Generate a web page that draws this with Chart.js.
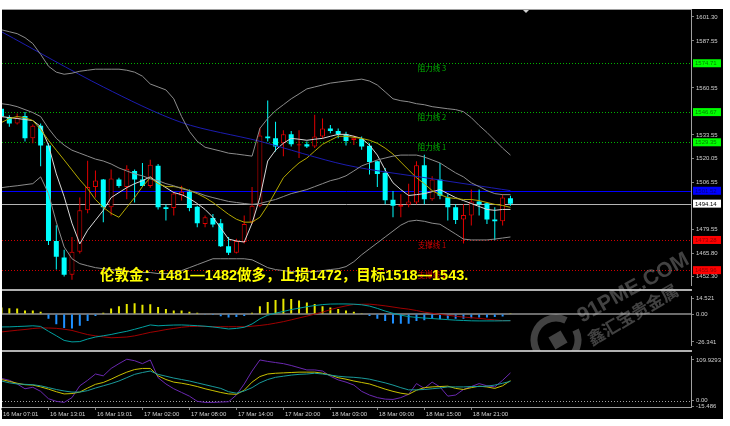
<!DOCTYPE html>
<html>
<head>
<meta charset="utf-8">
<script src="https://cdn.jsdelivr.net/npm/chart.js@4.4.1/dist/chart.umd.min.js"></script>
<style>
  body { margin: 0; background: #fff; }
  #wrap { position: relative; width: 730px; height: 426px; overflow: hidden; }
  canvas { position: absolute; left: 0; }
</style>
</head>
<body>
<div id="wrap">
  <canvas id="mainChart" width="730" height="291" style="top:0px"></canvas>
  <canvas id="macdChart" width="730" height="60" style="top:291px"></canvas>
  <canvas id="stochChart" width="730" height="75" style="top:351px"></canvas>
</div>
<script>
// hourly candles from 16 Mar 07:00
const opens = [1548.6,1543.9,1540.1,1544.5,1531.6,1538.8,1527.5,1472.7,1463.2,1453.3,
  1466.5,1490.4,1503.7,1508.0,1492.0,1508.0,1503.7,1512.8,1508.0,1504.3,
  1515.9,1492.0,1491.6,1498.8,1501.0,1492.4,1482.5,1485.9,1482.9,1469.7,
  1465.9,1472.1,1483.5,1492.9,1532.6,1531.6,1528.8,1533.9,1527.5,1528.2,
  1526.9,1532.6,1537.3,1535.8,1533.9,1530.7,1531.2,1527.3,1518.4,1511.8,
  1496.3,1492.4,1493.5,1494.8,1516.2,1496.7,1508.0,1497.6,1492.0,1485.0,
  1487.3,1495.4,1494.4,1485.0,1484.0,1497.2];
const highs = [1549.8,1544.8,1545.8,1546.8,1539.6,1540.1,1528.8,1481.8,1467.6,1475.0,
  1497.6,1518.8,1513.1,1508.3,1513.7,1509.0,1516.2,1513.7,1517.5,1519.3,
  1516.9,1493.8,1501.0,1504.4,1502.2,1492.9,1487.3,1488.2,1485.3,1475.0,
  1474.0,1487.3,1503.7,1537.7,1553.3,1541.1,1536.3,1535.8,1536.3,1529.8,
  1545.2,1543.0,1539.2,1537.3,1535.4,1533.2,1532.7,1528.8,1518.8,1514.6,
  1501.4,1499.5,1505.6,1518.4,1522.2,1509.9,1517.5,1499.5,1493.8,1493.8,
  1502.3,1502.3,1494.8,1492.0,1499.5,1498.6];
const lows = [1541.8,1538.3,1539.6,1529.8,1528.8,1515.6,1470.4,1456.3,1452.3,1450.4,
  1465.5,1488.6,1497.6,1483.5,1487.3,1503.3,1496.7,1494.8,1504.0,1503.3,
  1490.8,1484.4,1487.3,1495.9,1489.7,1480.6,1480.6,1480.6,1469.3,1464.6,
  1465.5,1471.2,1482.5,1492.0,1529.8,1524.1,1521.3,1526.9,1520.3,1526.0,
  1526.0,1531.6,1534.5,1531.6,1527.5,1527.8,1525.0,1510.8,1503.7,1493.8,
  1486.3,1486.3,1492.0,1493.8,1493.8,1495.8,1496.7,1484.4,1482.5,1471.2,
  1481.6,1487.3,1482.5,1473.1,1481.6,1492.9];
const closes = [1544.1,1540.1,1543.4,1531.6,1538.8,1527.5,1472.7,1463.6,1453.3,1466.5,
  1490.4,1503.7,1507.4,1492.0,1508.6,1504.3,1514.2,1508.0,1504.3,1516.5,
  1492.0,1491.0,1499.9,1501.0,1491.6,1482.9,1486.3,1482.2,1469.7,1465.9,
  1472.7,1482.5,1492.9,1533.2,1531.6,1526.9,1533.9,1528.2,1528.2,1526.9,
  1532.6,1537.3,1535.8,1533.9,1530.1,1532.0,1526.9,1518.0,1511.2,1496.1,
  1492.9,1493.5,1495.4,1516.2,1496.7,1508.0,1498.6,1492.0,1484.8,1487.6,
  1495.4,1493.8,1485.0,1484.0,1497.6,1494.1];

// overlay lines
const maYellow = [1540.7,1543.0,1544.1,1543.5,1541.8,1536.7,1530.5,1524.8,1519.2,1513.5,
  1507.8,1502.7,1496.5,1492.0,1488.6,1486.3,1492.0,1497.6,1503.9,1509.0,
  1505.6,1503.9,1503.9,1503.3,1501.6,1499.9,1497.6,1494.8,1491.4,1488.0,
  1485.2,1483.5,1483.5,1486.3,1493.1,1501.0,1509.0,1513.5,1517.5,1520.3,
  1524.3,1528.2,1530.5,1532.8,1532.8,1532.2,1531.6,1530.5,1528.8,1526.0,
  1522.6,1518.0,1513.5,1509.0,1505.6,1501.6,1499.3,1497.6,1497.1,1496.5,
  1496.5,1495.9,1494.8,1493.7,1493.1,1492.0];
const maWhite = [1544.1,1543.5,1543.0,1542.4,1541.8,1538.4,1527.7,1511.2,1498.2,1482.9,
  1471.0,1478.9,1484.6,1490.3,1497.6,1500.5,1503.3,1505.6,1507.3,1509.5,
  1506.1,1503.3,1500.5,1499.3,1497.1,1494.2,1490.8,1486.3,1480.1,1473.8,
  1472.7,1472.1,1482.9,1497.6,1518.6,1524.8,1528.8,1531.6,1531.1,1530.5,
  1531.1,1531.6,1532.8,1533.9,1533.9,1532.8,1531.6,1527.7,1522.0,1513.5,
  1506.1,1502.2,1498.8,1499.3,1499.9,1501.0,1502.2,1499.9,1497.6,1495.9,
  1494.2,1492.5,1490.8,1490.3,1490.8,1490.8];
const bandMid = [1551.5,1550.9,1549.8,1548.1,1546.4,1544.1,1537.3,1531.6,1527.7,1524.8,
  1523.1,1521.4,1519.7,1518.6,1516.9,1514.6,1512.9,1511.2,1510.1,1508.4,
  1507.3,1505.6,1504.4,1502.7,1501.6,1500.5,1498.8,1497.6,1496.5,1495.4,
  1494.8,1494.2,1493.7,1494.2,1495.4,1496.5,1498.2,1499.9,1501.0,1502.2,
  1503.9,1505.6,1507.3,1508.4,1510.1,1512.9,1515.8,1517.5,1519.2,1520.3,
  1521.4,1522.0,1522.0,1522.0,1520.9,1519.2,1517.5,1514.6,1511.8,1509.5,
  1506.1,1503.9,1501.6,1499.9,1499.3,1499.3];
const bandUpper = [1593.9,1592.8,1591.7,1589.4,1586.0,1579.8,1573.0,1569.6,1568.4,1569.0,
  1570.1,1570.7,1571.3,1571.3,1571.3,1571.3,1570.7,1569.6,1567.3,1562.8,
  1561.1,1559.4,1554.3,1544.1,1535.6,1529.9,1526.5,1525.4,1524.3,1523.1,
  1522.6,1522.0,1521.4,1537.3,1543.0,1547.5,1550.9,1554.3,1557.1,1560.0,
  1561.1,1562.2,1563.3,1563.9,1564.5,1565.0,1565.6,1564.5,1562.2,1558.3,
  1554.3,1553.2,1552.6,1551.5,1550.9,1549.8,1549.2,1548.6,1548.1,1546.9,
  1543.5,1539.0,1535.0,1530.5,1526.0,1522.0];
const bandLower = [1503.3,1503.9,1504.4,1505.0,1505.6,1509.5,1499.9,1483.5,1469.3,1462.5,
  1459.7,1458.5,1457.4,1456.8,1456.3,1455.7,1455.1,1455.1,1454.6,1454.6,
  1454.0,1454.0,1454.0,1455.7,1457.4,1459.1,1460.8,1462.5,1462.5,1462.5,
  1462.5,1462.5,1461.9,1459.7,1457.4,1456.3,1455.7,1455.1,1455.1,1455.1,
  1455.1,1455.7,1456.3,1456.8,1458.0,1460.8,1464.8,1468.2,1471.6,1475.0,
  1478.4,1481.8,1484.0,1484.6,1484.0,1482.9,1482.3,1479.5,1476.7,1473.8,
  1473.3,1473.3,1473.3,1473.8,1474.4,1475.0];
const slowIdx = [0, 13, 23, 33, 44, 55, 65];
const slowVals = [1592.8, 1561.1, 1540.7, 1529.9, 1516.3, 1508.4, 1501.6];

// MACD pane
const macdHist = [6.1,5.5,5.1,3.4,3.4,2.1,-4.4,-9.7,-13.2,-13.7,
  -11.1,-6.6,-1.8,1.3,5.1,7.4,9.5,10.1,8.7,9.3,
  6.6,4.8,3.4,3.4,2.1,1.1,-0.6,-1.0,-2.1,-3.3,
  -2.9,-1.8,1.3,7.4,11.4,13.3,14.5,14.1,12.7,10.8,
  9.5,7.4,6.1,4.8,3.4,2.1,0.3,-1.8,-4.4,-6.6,
  -9.0,-9.2,-9.2,-6.6,-5.8,-4.4,-5.0,-4.4,-4.4,-4.4,
  -4.0,-3.4,-3.2,-2.9,-2.3,0.8];
const macdMain = [-12.2,-12.1,-11.8,-11.5,-11.1,-11.7,-16.3,-20.5,-24.9,-26.3,
  -26.0,-23.6,-21.7,-20.5,-19.3,-17.7,-16.3,-14.4,-12.4,-10.3,
  -11.1,-10.7,-10.4,-10.3,-10.6,-11.0,-11.5,-12.2,-13.1,-14.1,
  -13.6,-12.5,-9.4,-4.6,-1.1,0.8,2.4,4.2,5.5,6.9,
  8.0,8.9,9.4,9.5,9.5,9.3,8.7,7.5,5.3,2.8,
  0.7,-1.1,-2.4,-3.2,-3.8,-4.3,-4.8,-5.3,-5.8,-6.1,
  -6.4,-6.5,-6.5,-6.5,-6.4,-6.3];
const macdSignal = [-16.9,-16.1,-15.3,-14.6,-13.7,-13.1,-13.2,-13.5,-14.3,-15.5,
  -17.5,-19.4,-20.6,-21.5,-22.4,-22.1,-21.7,-20.6,-19.0,-17.3,
  -16.1,-14.7,-13.6,-12.5,-11.8,-11.6,-11.7,-12.0,-12.0,-12.0,
  -12.0,-12.0,-11.5,-10.8,-9.9,-8.6,-7.2,-5.5,-3.7,-2.0,
  -0.1,1.8,4.1,6.1,7.7,9.0,9.2,9.3,8.6,7.7,
  6.6,5.5,4.6,3.3,1.8,0.7,-0.3,-1.2,-2.1,-2.9,
  -3.5,-4.1,-4.9,-5.5,-6.2,-6.3];

// oscillator pane
const oscFast = [60,55,45,32,36,25,5,-2,-5,8,
  40,55,72,67,87,100,112,108,100,110,
  62,45,32,22,12,-2,-5,-5,-4,-3,
  15,45,80,110,106,103,100,95,89,83,
  83,80,66,56,50,42,25,15,8,4,
  3,8,17,46,33,50,37,12,15,30,
  38,46,40,37,55,75];
const oscSlow = [57,52,47,43,42,37,31,24,18,19,
  23,34,44,49,58,68,77,84,87,87,
  67,57,50,47,43,38,32,27,22,18,
  17,28,50,65,72,74,75,76,77,77,
  77,74,69,62,58,53,49,45,38,31,
  25,20,17,28,35,37,38,39,33,30,
  35,39,37,33,40,54];
const oscSignal = [53,48,45,44,43,40,35,30,26,23,
  23,27,34,40,46,53,62,71,76,80,
  71,66,61,57,53,48,43,38,33,24,
  20,26,35,48,57,63,66,69,71,72,
  74,72,69,66,64,63,61,58,53,48,
  42,35,29,29,30,32,34,37,37,37,
  38,38,39,42,47,52];

// axes and levels
const timeLabels = ["16 Mar 07:01","16 Mar 13:01","16 Mar 19:01","17 Mar 02:00","17 Mar 08:00",
  "17 Mar 14:00","17 Mar 20:00","18 Mar 03:00","18 Mar 09:00","18 Mar 15:00","18 Mar 21:00"];
const timeLabelIdx = [0, 6, 12, 18, 24, 30, 36, 42, 48, 54, 60];
const priceTicks = [1601.30, 1587.55, 1560.55, 1533.55, 1520.05, 1506.55, 1479.55, 1465.80, 1452.30];
const resistPrices = [1574.71, 1546.67, 1529.35];
const resistNames = ["阻力线 3", "阻力线 2", "阻力线 1"];
const supportPrices = [1473.28, 1455.96];
const supportNames = ["支撑线 1", "支撑线 2"];
const bluePrice = 1501.52;
const lastPrice = 1494.14;
const macdTicks = [14.521, 0, -26.341];
const oscTicks = [109.9293, 0, -15.486];
const noteText = "伦敦金：1481—1482做多，止损1472，目标1518—1543.";

const RED = '#e00000';
const CYAN = '#00ffff';
const TICK_COLOR = '#d0d0d0';
const EDGE = '#a0a0a0';
const X_MIN = 0.064, X_MAX = 88.06;
const smallFont = { family: 'Liberation Sans', size: 6 };

const pts = arr => arr.map((v, i) => ({ x: i, y: v }));
const line = (arr, color) => ({
  type: 'line', data: pts(arr), borderColor: color, borderWidth: 1,
  pointRadius: 0, tension: 0, fill: false, order: 0
});
const isBull = i => closes[i] >= opens[i];
const fmtTick = v => v === 0 ? '0.00' : String(v);

function xScale(show) {
  if (!show) {
    return { type: 'linear', min: X_MIN, max: X_MAX, offset: false, display: false };
  }
  return {
    type: 'linear', min: X_MIN, max: X_MAX, offset: false,
    grid: { offset: false, drawOnChartArea: false, tickLength: 3, color: '#808080' },
    border: { color: EDGE },
    afterFit: s => { s.height = 19; },
    afterBuildTicks: s => { s.ticks = timeLabelIdx.map(v => ({ value: v })); },
    ticks: {
      color: TICK_COLOR, font: smallFont, align: 'start', labelOffset: 1.5,
      maxRotation: 0, autoSkip: false, padding: 1,
      callback: (v, k) => timeLabels[k]
    }
  };
}

function yScale(min, max, tickValues, fmt) {
  return {
    position: 'right', min: min, max: max,
    afterFit: s => { s.width = 39; },
    afterBuildTicks: s => { s.ticks = tickValues.map(v => ({ value: v })); },
    ticks: { color: TICK_COLOR, font: smallFont, padding: 2, autoSkip: false, callback: fmt },
    grid: { drawOnChartArea: false, tickLength: 3, color: '#808080' },
    border: { color: EDGE }
  };
}

function paintBackground(chart, top, bottom) {
  const c = chart.ctx;
  c.save();
  c.fillStyle = '#fff';
  c.fillRect(0, 0, chart.width, chart.height);
  c.fillStyle = '#000';
  c.fillRect(2, top, 721, bottom - top);
  c.restore();
}

function drawWatermark(c, offsetY) {
  c.save();
  c.translate(0, -offsetY);
  c.fillStyle = 'rgba(200,200,200,0.33)';
  c.strokeStyle = 'rgba(200,200,200,0.33)';
  c.lineWidth = 7;
  c.beginPath();
  c.arc(556, 340, 22, -0.15 * Math.PI, 1.65 * Math.PI);
  c.stroke();
  c.save();
  c.translate(558, 340);
  c.rotate(-Math.PI / 6);
  c.fillRect(-7, -7, 14, 14);
  c.restore();
  c.save();
  c.translate(582, 323);
  c.rotate(-0.16 * Math.PI);
  c.font = 'bold 21px "Liberation Sans"';
  c.fillText('91PME.COM', 0, 0);
  c.restore();
  c.save();
  c.translate(592, 346);
  c.rotate(-0.17 * Math.PI);
  c.font = 'bold 17px "Noto Sans CJK SC"';
  c.fillText('鑫汇宝贵金属', 0, 0);
  c.restore();
  c.restore();
}

function axisBox(c, py, bg, fg, text) {
  c.fillStyle = bg;
  c.fillRect(693, py - 4, 28, 8);
  c.fillStyle = fg;
  c.font = '6px "Liberation Sans"';
  c.textAlign = 'left';
  c.textBaseline = 'middle';
  c.fillText(text, 695, py + 0.5);
}

const mainDecor = {
  id: 'mainDecor',
  beforeDraw(chart) {
    paintBackground(chart, 9, chart.height);
  },
  beforeDatasetsDraw(chart) {
    const c = chart.ctx, a = chart.chartArea, y = chart.scales.y;
    c.save();
    c.lineWidth = 1;
    const level = (p, name, col) => {
      const py = Math.round(y.getPixelForValue(p)) + 0.5;
      c.strokeStyle = col;
      c.setLineDash([1, 2]);
      c.beginPath(); c.moveTo(a.left, py); c.lineTo(a.right, py); c.stroke();
      c.setLineDash([]);
      c.fillStyle = col;
      c.font = '7.5px "Noto Sans CJK SC"';
      c.textAlign = 'center';
      c.textBaseline = 'top';
      c.fillText(name, 432, py + 0.5);
    };
    resistPrices.forEach((p, k) => level(p, resistNames[k], '#00b400'));
    supportPrices.forEach((p, k) => level(p, supportNames[k], '#d00000'));
    let py = Math.round(y.getPixelForValue(bluePrice)) + 0.5;
    c.strokeStyle = '#0000ff';
    c.beginPath(); c.moveTo(a.left, py); c.lineTo(a.right, py); c.stroke();
    py = Math.round(y.getPixelForValue(lastPrice)) + 0.5;
    c.strokeStyle = '#b4b4b4';
    c.beginPath(); c.moveTo(a.left, py); c.lineTo(a.right, py); c.stroke();
    c.restore();
  },
  afterDatasetsDraw(chart) {
    const c = chart.ctx, y = chart.scales.y;
    c.save();
    c.font = 'bold 14.5px "Liberation Sans", "Noto Sans CJK SC"';
    c.fillStyle = '#ffff00';
    c.textAlign = 'left';
    c.textBaseline = 'alphabetic';
    c.fillText(noteText, 100, 280);
    resistPrices.forEach(p => axisBox(c, y.getPixelForValue(p), '#00ff00', '#008000', p.toFixed(2)));
    supportPrices.forEach(p => axisBox(c, y.getPixelForValue(p), '#ff0000', '#900000', p.toFixed(2)));
    axisBox(c, y.getPixelForValue(bluePrice), '#0000ff', '#000080', bluePrice.toFixed(2));
    axisBox(c, y.getPixelForValue(lastPrice), '#ffffff', '#000000', lastPrice.toFixed(2));
    c.restore();
  },
  afterDraw(chart) {
    const c = chart.ctx;
    c.save();
    c.strokeStyle = EDGE;
    c.lineWidth = 1;
    c.beginPath(); c.moveTo(2, 9.5); c.lineTo(692, 9.5); c.stroke();
    c.fillStyle = '#b0b0b0';
    c.fillRect(2, 289, 690, 2);
    c.fillStyle = '#d0d0d0';
    c.beginPath(); c.moveTo(523, 10); c.lineTo(529, 10); c.lineTo(526, 13); c.closePath(); c.fill();
    drawWatermark(c, 0);
    c.restore();
  }
};

const macdDecor = {
  id: 'macdDecor',
  beforeDraw(chart) {
    paintBackground(chart, 0, chart.height);
  },
  beforeDatasetsDraw(chart) {
    const c = chart.ctx, a = chart.chartArea;
    const py = chart.scales.y.getPixelForValue(0);
    c.save();
    c.strokeStyle = '#909090';
    c.lineWidth = 1.5;
    c.beginPath(); c.moveTo(a.left, py); c.lineTo(a.right, py); c.stroke();
    c.restore();
  },
  afterDraw(chart) {
    const c = chart.ctx;
    c.save();
    c.fillStyle = '#b0b0b0';
    c.fillRect(2, 59, 690, 1);
    drawWatermark(c, 291);
    c.restore();
  }
};

const oscDecor = {
  id: 'oscDecor',
  beforeDraw(chart) {
    paintBackground(chart, 0, 68);
  },
  beforeDatasetsDraw(chart) {
    const c = chart.ctx, a = chart.chartArea;
    const py = Math.round(chart.scales.y.getPixelForValue(0)) + 0.5;
    c.save();
    c.strokeStyle = '#a0a0a0';
    c.lineWidth = 1;
    c.setLineDash([1, 2]);
    c.beginPath(); c.moveTo(a.left, py); c.lineTo(a.right, py); c.stroke();
    c.restore();
  },
  afterDraw(chart) {
    const c = chart.ctx;
    c.save();
    c.fillStyle = '#b0b0b0';
    c.fillRect(2, 0, 690, 1);
    c.restore();
  }
};

const baseOptions = (padding, scales) => ({
  responsive: false,
  animation: false,
  layout: { padding: padding },
  plugins: { legend: { display: false }, tooltip: { enabled: false } },
  scales: scales
});

new Chart(document.getElementById('mainChart'), {
  type: 'bar',
  data: {
    datasets: [
      line(bandUpper, '#8c8c8c'),
      line(bandMid, '#8c8c8c'),
      line(bandLower, '#8c8c8c'),
      { type: 'line', data: slowIdx.map((x, k) => ({ x: x, y: slowVals[k] })), borderColor: '#1c1cb0',
        borderWidth: 1, pointRadius: 0, tension: 0.3, fill: false, order: 0 },
      line(maYellow, '#b4a800'),
      line(maWhite, '#d8d8d8'),
      { type: 'bar', data: lows.map((v, i) => ({ x: i, y: [v, highs[i]] })), barThickness: 1,
        grouped: false, inflateAmount: 0, order: 2,
        backgroundColor: ctx => isBull(ctx.dataIndex) ? RED : CYAN },
      { type: 'bar', data: opens.map((v, i) => ({ x: i, y: [Math.min(v, closes[i]), Math.max(v, closes[i])] })),
        barThickness: 5, grouped: false, inflateAmount: 0, order: 1, minBarLength: 1, borderSkipped: false,
        backgroundColor: ctx => isBull(ctx.dataIndex) ? '#000000' : CYAN,
        borderColor: ctx => isBull(ctx.dataIndex) ? RED : CYAN,
        borderWidth: ctx => isBull(ctx.dataIndex) ? 1 : 0 }
    ]
  },
  options: baseOptions({ left: 2, top: 10, right: 0, bottom: 2 }, {
    x: xScale(false),
    y: yScale(1447.21, 1605.27, priceTicks, v => v.toFixed(2))
  }),
  plugins: [mainDecor]
});

new Chart(document.getElementById('macdChart'), {
  type: 'bar',
  data: {
    datasets: [
      line(macdMain, '#00a0a0'),
      line(macdSignal, '#a00000'),
      { type: 'bar', data: pts(macdHist), barThickness: 2, grouped: false, inflateAmount: 0, order: 1,
        backgroundColor: ctx => macdHist[ctx.dataIndex] >= 0 ? '#e6e600' : '#1e90ff' }
    ]
  },
  options: baseOptions({ left: 2, top: 1, right: 0, bottom: 1 }, {
    x: xScale(false),
    y: yScale(-29.6, 16.43, macdTicks, fmtTick)
  }),
  plugins: [macdDecor]
});

new Chart(document.getElementById('stochChart'), {
  type: 'line',
  data: {
    datasets: [
      line(oscSignal, '#1a9a9a'),
      line(oscSlow, '#c8c000'),
      line(oscFast, '#6a28b0')
    ]
  },
  options: baseOptions({ left: 2, top: 1, right: 0, bottom: 0 }, {
    x: xScale(true),
    y: yScale(-17.4, 119.1, oscTicks, fmtTick)
  }),
  plugins: [oscDecor]
});
</script>
</body>
</html>
